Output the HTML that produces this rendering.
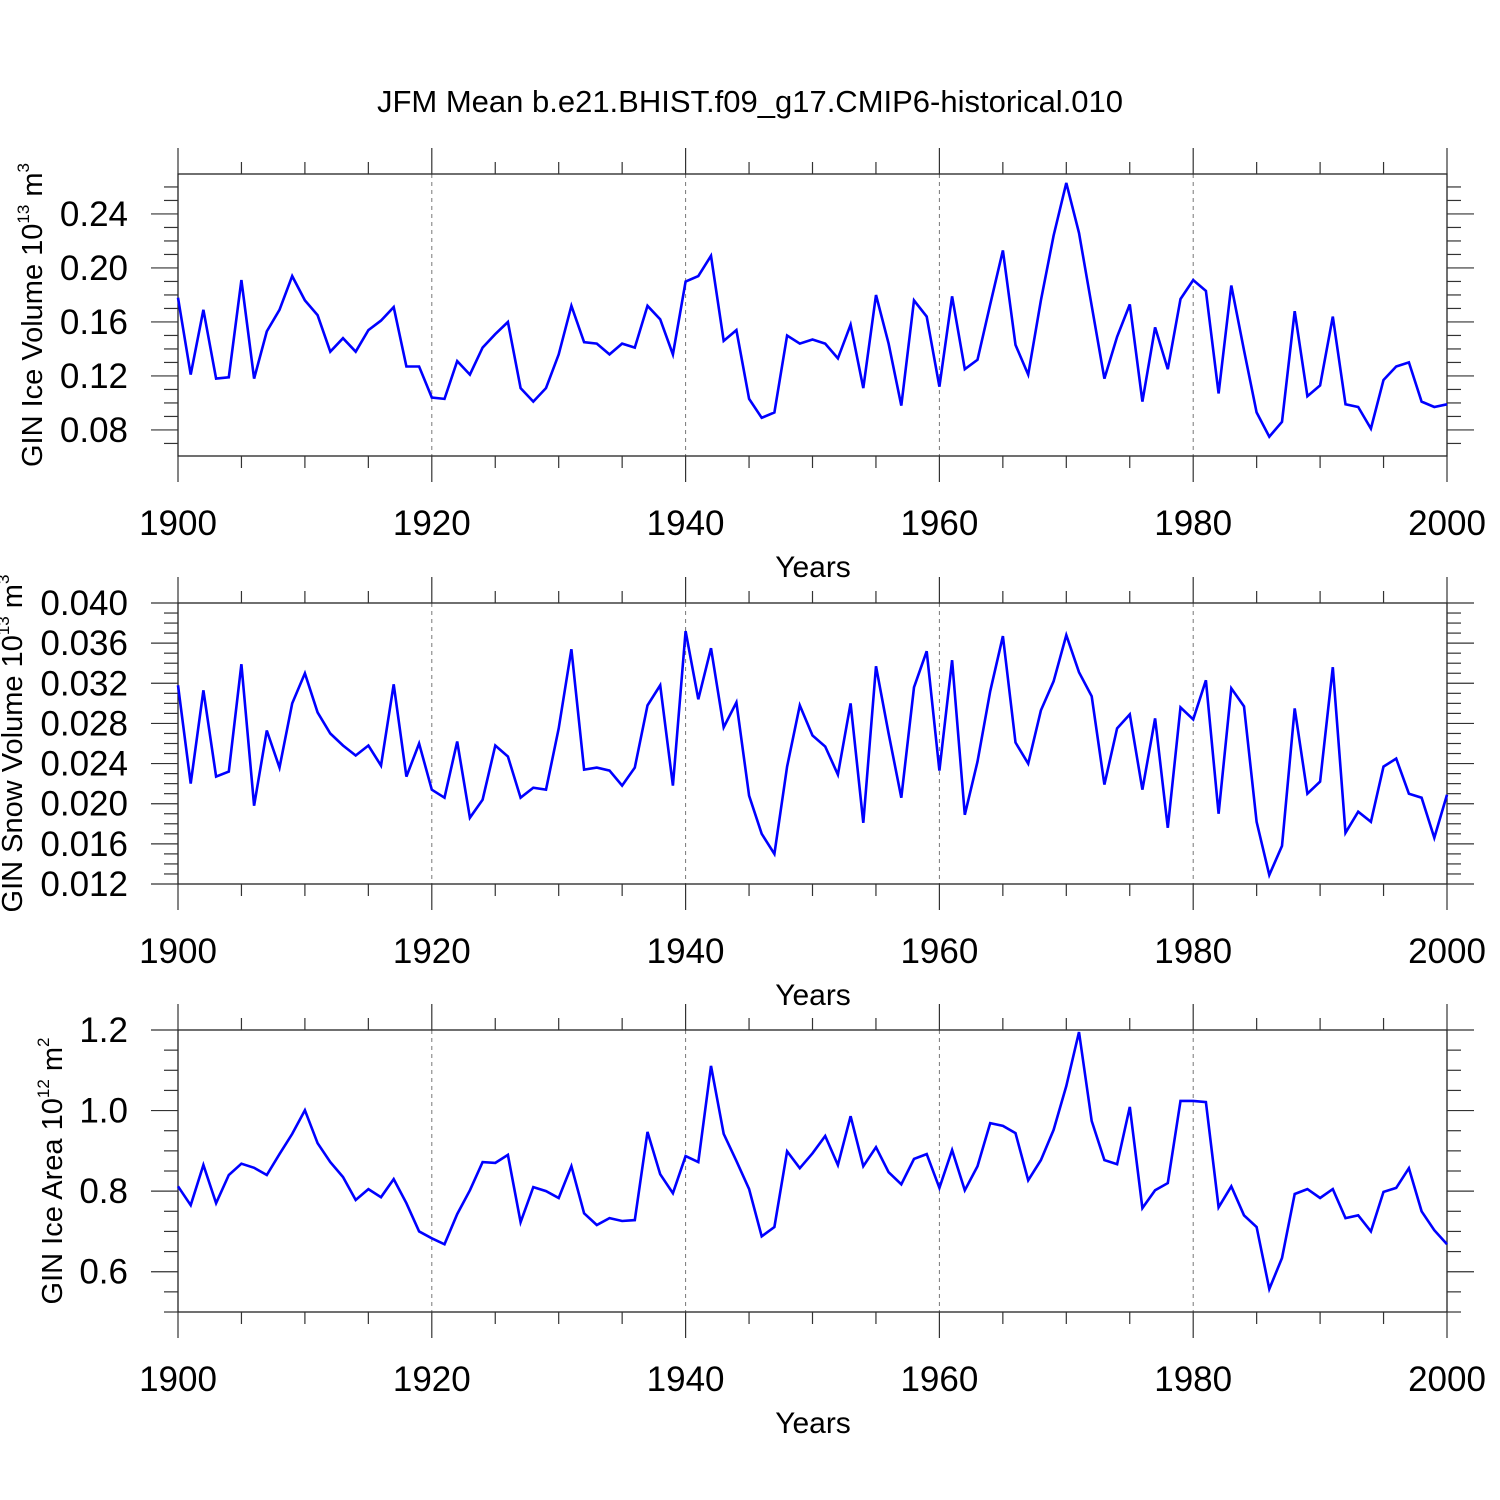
<!DOCTYPE html>
<html><head><meta charset="utf-8"><style>
html,body{margin:0;padding:0;background:#fff;}
svg{display:block;font-family:"Liberation Sans",sans-serif;}
</style></head><body>
<svg id="chart" width="1500" height="1500" viewBox="0 0 1500 1500" xmlns="http://www.w3.org/2000/svg">
<text x="750" y="112" text-anchor="middle" font-size="31">JFM Mean b.e21.BHIST.f09_g17.CMIP6-historical.010</text>
</svg>
<script>
const years = [];
for (let y = 1900; y <= 2000; y++) years.push(y);
const iceVolume = [0.178,0.121,0.169,0.118,0.119,0.191,0.118,0.153,0.169,0.194,0.176,0.165,0.138,0.148,0.138,0.154,0.161,0.171,0.127,0.127,0.104,0.103,0.131,0.121,0.141,0.151,0.160,0.111,0.101,0.111,0.136,0.172,0.145,0.144,0.136,0.144,0.141,0.172,0.162,0.136,0.190,0.194,0.209,0.146,0.154,0.103,0.089,0.093,0.150,0.144,0.147,0.144,0.133,0.158,0.111,0.180,0.144,0.098,0.176,0.164,0.112,0.179,0.125,0.132,0.173,0.213,0.143,0.121,0.176,0.224,0.263,0.226,0.172,0.118,0.149,0.173,0.101,0.156,0.125,0.177,0.191,0.183,0.107,0.187,0.139,0.093,0.075,0.086,0.168,0.105,0.113,0.164,0.099,0.097,0.081,0.117,0.127,0.130,0.101,0.097,0.099];
const snowVolume = [0.0318,0.0220,0.0313,0.0227,0.0232,0.0339,0.0198,0.0273,0.0236,0.0300,0.0330,0.0291,0.0270,0.0258,0.0248,0.0258,0.0238,0.0319,0.0227,0.0260,0.0214,0.0206,0.0262,0.0186,0.0204,0.0258,0.0247,0.0206,0.0216,0.0214,0.0275,0.0354,0.0234,0.0236,0.0233,0.0218,0.0236,0.0298,0.0318,0.0218,0.0372,0.0304,0.0355,0.0276,0.0301,0.0208,0.0170,0.0150,0.0237,0.0298,0.0268,0.0257,0.0229,0.0300,0.0181,0.0337,0.0270,0.0206,0.0316,0.0352,0.0233,0.0343,0.0189,0.0242,0.0312,0.0367,0.0261,0.0240,0.0293,0.0322,0.0368,0.0331,0.0307,0.0219,0.0275,0.0289,0.0214,0.0285,0.0176,0.0296,0.0284,0.0323,0.0190,0.0315,0.0297,0.0182,0.0129,0.0158,0.0295,0.0210,0.0222,0.0336,0.0171,0.0192,0.0182,0.0237,0.0245,0.0210,0.0206,0.0166,0.0209];
const iceArea = [0.812,0.765,0.865,0.770,0.840,0.868,0.858,0.840,0.892,0.942,1.001,0.919,0.872,0.835,0.778,0.805,0.785,0.830,0.770,0.700,0.683,0.668,0.743,0.802,0.872,0.870,0.890,0.723,0.810,0.800,0.783,0.862,0.745,0.716,0.733,0.726,0.728,0.947,0.842,0.795,0.887,0.872,1.111,0.942,0.875,0.805,0.688,0.711,0.899,0.857,0.894,0.937,0.865,0.986,0.862,0.909,0.847,0.817,0.880,0.892,0.808,0.902,0.802,0.862,0.969,0.962,0.944,0.827,0.877,0.952,1.061,1.195,0.974,0.877,0.867,1.009,0.758,0.802,0.820,1.024,1.024,1.021,0.760,0.812,0.740,0.711,0.557,0.634,0.793,0.805,0.783,0.805,0.733,0.740,0.700,0.798,0.808,0.857,0.750,0.703,0.668];
const xTickLabels = ["1900","1920","1940","1960","1980","2000"];
const iceVolumeTicks = ["0.08","0.12","0.16","0.20","0.24"];
const snowVolumeTicks = ["0.012","0.016","0.020","0.024","0.028","0.032","0.036","0.040"];
const iceAreaTicks = ["0.6","0.8","1.0","1.2"];

const NS = "http://www.w3.org/2000/svg";
const svg = document.getElementById('chart');
const X0 = 178, X1 = 1447;
function xScale(yr){ return X0 + (yr-1900)/100*(X1-X0); }
function mk(tag, attrs, parent){
  const e = document.createElementNS(NS, tag);
  for (const k in attrs) e.setAttribute(k, attrs[k]);
  (parent||svg).appendChild(e); return e;
}
function panel(opt){
  const g = mk('g', {});
  
  
  const yS = v => opt.bot - (v-opt.vmin)/(opt.vmax-opt.vmin)*(opt.bot-opt.top);
  for (const yr of [1920,1940,1960,1980]) {
    const l = mk('line',{x1:xScale(yr),x2:xScale(yr),y1:opt.top,y2:opt.bot,stroke:'#777','stroke-width':1,'stroke-dasharray':'4,4'},g);
    
    
  }
  const fr = mk('rect',{x:X0,y:opt.top,width:X1-X0,height:opt.bot-opt.top,fill:'none',stroke:'#222','stroke-width':1.3},g);
  
  
  for (let yr=1900; yr<=2000; yr+=5){
    const x = xScale(yr), len = (yr%20===0)?26:12;
    mk('line',{x1:x,x2:x,y1:opt.top,y2:opt.top-len,stroke:'#333','stroke-width':1.2},g);
    mk('line',{x1:x,x2:x,y1:opt.bot,y2:opt.bot+len,stroke:'#333','stroke-width':1.2},g);
  }
  xTickLabels.forEach(t=>{
    const tx = mk('text',{x:xScale(+t),y:opt.bot+79,'text-anchor':'middle','font-size':35},g);
    
    
    tx.textContent = t;
  });
  const xt = mk('text',{x:813,y:opt.bot+121,'text-anchor':'middle','font-size':30},g);
  
  
  xt.textContent = 'Years';
  const nMin = Math.round((opt.vmax-opt.vmin)/opt.minor);
  for (let i=0;i<=nMin+1;i++){
    const v = opt.minorStart + i*opt.minor;
    if (v > opt.vmax+1e-9) break;
    if (v < opt.vmin-1e-9) continue;
    const y = yS(v);
    const isMaj = opt.ticks.some(t=>Math.abs(+t-v)<1e-9);
    const len = isMaj?27:14;
    mk('line',{x1:X0,x2:X0-len,y1:y,y2:y,stroke:'#333','stroke-width':1.2},g);
    mk('line',{x1:X1,x2:X1+len,y1:y,y2:y,stroke:'#333','stroke-width':1.2},g);
  }
  opt.ticks.forEach(t=>{
    const tx = mk('text',{x:128,y:yS(+t)+12,'text-anchor':'end','font-size':35},g);
    
    
    tx.textContent = t;
  });
  const yc = (opt.top+opt.bot)/2;
  const yt = mk('text',{x:opt.titleX,y:yc,'text-anchor':'middle','font-size':29,transform:`rotate(-90 ${opt.titleX} ${yc})`},g);
  
  
  yt.innerHTML = opt.title + ' 10<tspan font-size="17" dy="-13">' + opt.exp + '</tspan><tspan dy="13"> m</tspan><tspan font-size="17" dy="-13">' + opt.unitExp + '</tspan>';
  const pts = opt.data.map((v,i)=>xScale(years[i]).toFixed(1)+','+yS(v).toFixed(1)).join(' ');
  const pl = mk('polyline',{points:pts,fill:'none',stroke:'#0000ff','stroke-width':2.6,'stroke-linejoin':'miter'},g);
  
  
}
panel({name:'ice-volume-panel',top:174,bot:456,vmin:0.0607,vmax:0.2696,minor:0.01,minorStart:0.07,ticks:iceVolumeTicks,data:iceVolume,title:'GIN Ice Volume',exp:'13',unitExp:'3',titleX:42});
panel({name:'snow-volume-panel',top:603,bot:884,vmin:0.012,vmax:0.040,minor:0.001,minorStart:0.012,ticks:snowVolumeTicks,data:snowVolume,title:'GIN Snow Volume',exp:'13',unitExp:'3',titleX:22});
panel({name:'ice-area-panel',top:1030,bot:1312,vmin:0.5,vmax:1.2,minor:0.05,minorStart:0.5,ticks:iceAreaTicks,data:iceArea,title:'GIN Ice Area',exp:'12',unitExp:'2',titleX:62});
</script>
</body></html>
